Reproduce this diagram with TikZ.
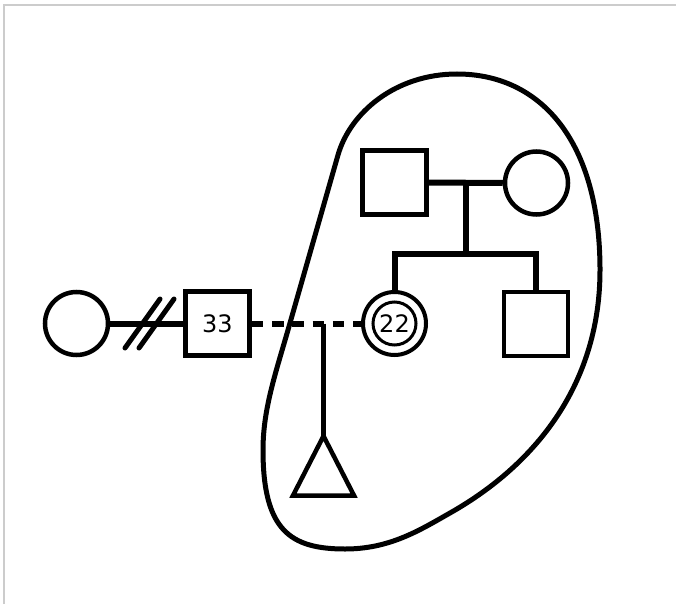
\documentclass[tikz,border=0pt]{standalone}
\usepackage{fontspec}
\setmainfont{DejaVu Sans}
\begin{document}
\begin{tikzpicture}[x=1pt,y=-1pt,
  person/.style={draw=black, line width=4.5pt, fill=white, inner sep=0pt, font=\fontsize{24}{28}\selectfont},
  male/.style={person, rectangle, minimum size=64pt},
  female/.style={person, circle, minimum size=63pt},
  rel/.style={line width=6pt, line join=miter},
  hatch/.style={line width=5pt, line cap=round},
  border/.style={draw=black!20, line width=2pt}]
\useasboundingbox (0,0) rectangle (676,604);
\draw[border] (4,604) -- (4,5) -- (676,5);
% blob (group outline)
\draw[line width=5pt]
  (457,74) .. controls (395,74) and (350,113) .. (338,155)
  -- (288,330)
  .. controls (275,375) and (263,410) .. (263,450)
  .. controls (263,530) and (290,549) .. (345,549)
  .. controls (390,549) and (420,530) .. (450,513)
  .. controls (540,462) and (600,380) .. (600,270)
  .. controls (600,140) and (540,74) .. (457,74) -- cycle;
\coordinate (lcC) at (76.5,323.5);
\coordinate (s33C) at (217.5,323.5);
\coordinate (dcC) at (394.5,323.5);
\coordinate (tsC) at (394.5,182.5);
\coordinate (tcC) at (536.5,183);
\coordinate (rsC) at (536,324);
\node[female] (lc) at (lcC) {};
\node[male] (s33) at (s33C) {33};
\node[female, line width=4pt] (dc) at (dcC) {};
\node[circle, draw=black, line width=3pt, minimum size=43pt, inner sep=0pt, font=\fontsize{24}{28}\selectfont] (dci) at (dcC) {22};
\node[male] (ts) at (tsC) {};
\node[female] (tc) at (tcC) {};
\node[male] (rs) at (rsC) {};
% left marriage with separation hatches
\draw[rel] (lc.east) -- (s33.west);
\draw[hatch] (125,348) -- (160,299);
\draw[hatch] (139,348) -- (174,299);
% dashed union
\draw[rel, dash pattern=on 11.5pt off 8.8pt] (s33.east) -- (dc.west);
\coordinate (j) at (323.5,323.5);
\coordinate (tri) at (323.5,436);
\draw[rel, line width=5.5pt] (j) -- (tri);
\draw[line width=4.5pt, line join=miter] (tri) -- ++(-30.5,59.5) -- ++(61,0) -- cycle;
% top marriage and sibship
\draw[rel] (ts.east) -- (tc.west);
\coordinate (m) at (465.5,183);
\coordinate (sib) at (465.5,254);
\draw[rel] (m) -- (sib);
\draw[rel] (dc.north) -- (dc.north |- sib) -- (rs.north |- sib) -- (rs.north);
\end{tikzpicture}
\end{document}
